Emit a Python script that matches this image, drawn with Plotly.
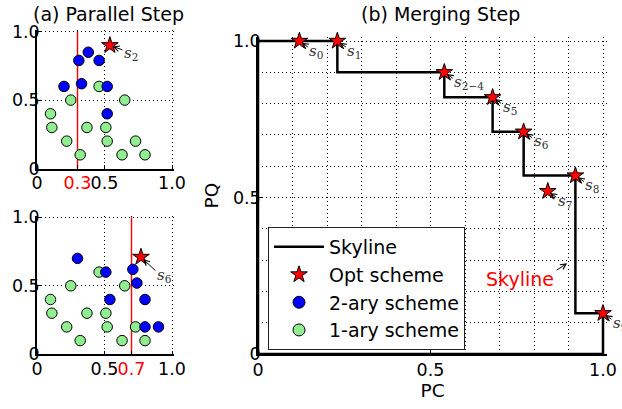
import plotly.graph_objects as go

W, H = 622, 409

# ---------------- data ----------------
thresholds = [0.3, 0.7]

green_x = [0.46, 0.25, 0.65, 0.10, 0.11, 0.37, 0.51, 0.22, 0.52, 0.73, 0.32, 0.63, 0.80]
green_y = [0.60, 0.50, 0.50, 0.40, 0.30, 0.30, 0.30, 0.20, 0.20, 0.20, 0.10, 0.10, 0.10]

blue_top_x = [0.31, 0.38, 0.46, 0.20, 0.33, 0.52, 0.52]
blue_top_y = [0.79, 0.85, 0.79, 0.60, 0.62, 0.60, 0.40]

blue_bot_x = [0.30, 0.51, 0.71, 0.74, 0.54, 0.80, 0.80, 0.90]
blue_bot_y = [0.70, 0.60, 0.62, 0.52, 0.40, 0.40, 0.20, 0.20]

star_top = (0.54, 0.90, "2")
star_bot = (0.77, 0.71, "6")

skyline_pc = [0, 0, 0.23, 0.23, 0.54, 0.54, 0.68, 0.68, 0.77, 0.77, 0.92, 0.92, 1.0, 1.0, 0]
skyline_pq = [0, 1.0, 1.0, 0.90, 0.90, 0.82, 0.82, 0.71, 0.71, 0.57, 0.57, 0.13, 0.13, 0, 0]

opt_pc = [0.12, 0.23, 0.54, 0.68, 0.77, 0.84, 0.92, 1.0]
opt_pq = [1.0, 1.0, 0.90, 0.82, 0.71, 0.52, 0.57, 0.13]
opt_labels = ["0", "1", "2\u22124", "5", "6", "7", "8", "9"]

skyline_note = (0.896, 0.29)

tick_vals = [0, 0.5, 1.0]
tick_text = ["0", "0.5", "1.0"]

# ---------------- helpers ----------------
def px_x(p):
    return p / W

def px_y(p):
    return 1 - p / H

FONT = "DejaVu Sans"
GREEN = "#90EE90"
BLUE = "#0000FF"
RED = "#FF0000"
DOT = "1px,3px"
EXT = 1.012  # tiny range extension so gridlines at 1.0 are drawn

fig = go.Figure()

circle_line = dict(color="black", width=1)

# left panels
panels = [
    ("x", "y", blue_top_x, blue_top_y, star_top, thresholds[0]),
    ("x2", "y2", blue_bot_x, blue_bot_y, star_bot, thresholds[1]),
]
for i, (xa, ya, bx, by, star, thr) in enumerate(panels):
    fig.add_trace(go.Scatter(
        x=[thr, thr], y=[0, 1], mode="lines", line=dict(color=RED, width=1.4),
        xaxis=xa, yaxis=ya, showlegend=False, hoverinfo="skip"))
    fig.add_trace(go.Scatter(
        x=green_x, y=green_y, mode="markers", xaxis=xa, yaxis=ya,
        marker=dict(symbol="circle", size=10.5, color=GREEN, line=circle_line),
        showlegend=False, cliponaxis=False))
    fig.add_trace(go.Scatter(
        x=bx, y=by, mode="markers", xaxis=xa, yaxis=ya,
        marker=dict(symbol="circle", size=10.5, color=BLUE, line=circle_line),
        showlegend=False, cliponaxis=False))
    fig.add_trace(go.Scatter(
        x=[star[0]], y=[star[1]], mode="markers", xaxis=xa, yaxis=ya,
        marker=dict(symbol="star", size=12.5, color=RED, line=dict(color="black", width=1)),
        showlegend=False, cliponaxis=False))

# right panel
fig.add_trace(go.Scatter(
    x=skyline_pc, y=skyline_pq, mode="lines", name="Skyline",
    line=dict(color="black", width=2.5), xaxis="x3", yaxis="y3",
    legendgroup="a", cliponaxis=False))
fig.add_trace(go.Scatter(
    x=opt_pc, y=opt_pq, mode="markers", name="Opt scheme",
    marker=dict(symbol="star", size=12.5, color=RED, line=dict(color="black", width=1)),
    xaxis="x3", yaxis="y3", legendgroup="b", cliponaxis=False))
# legend-only entries for circle schemes
fig.add_trace(go.Scatter(
    x=[None], y=[None], mode="markers", name="2-ary scheme",
    marker=dict(symbol="circle", size=12, color=BLUE, line=circle_line),
    xaxis="x3", yaxis="y3", legendgroup="c"))
fig.add_trace(go.Scatter(
    x=[None], y=[None], mode="markers", name="1-ary scheme",
    marker=dict(symbol="circle", size=12, color=GREEN, line=circle_line),
    xaxis="x3", yaxis="y3", legendgroup="d"))

annotations = []

def s_label(xref, yref, x, y, sub, dx=7, dy=10):
    annotations.append(dict(
        x=x, y=y, xref=xref, yref=yref, showarrow=True, text="",
        ax=dx + 4, ay=dy - 3, arrowhead=5, arrowsize=1.1, arrowwidth=1,
        arrowcolor="black", standoff=3))
    annotations.append(dict(
        x=x, y=y, xref=xref, yref=yref, showarrow=False,
        text="<i>s</i><sub>%s</sub>" % sub, xanchor="left", yanchor="middle",
        xshift=dx + 2, yshift=-dy,
        font=dict(family="DejaVu Serif", size=15, color="#333333")))

s_label("x", "y", star_top[0], star_top[1], star_top[2], dx=10, dy=8)
s_label("x2", "y2", star_bot[0], star_bot[1], star_bot[2], dx=12, dy=18)
for px_, py_, lab in zip(opt_pc, opt_pq, opt_labels):
    s_label("x3", "y3", px_, py_, lab, dx=6, dy=10)

# Skyline note
annotations.append(dict(
    x=skyline_note[0], y=skyline_note[1], xref="x3", yref="y3", text="",
    showarrow=True, ax=-12, ay=8, arrowhead=5, arrowsize=1.1, arrowwidth=1,
    arrowcolor="black", standoff=0))
annotations.append(dict(
    x=skyline_note[0], y=skyline_note[1], xref="x3", yref="y3", text="Skyline",
    showarrow=False, xanchor="right", yanchor="middle", xshift=-11, yshift=-16,
    font=dict(family=FONT, size=19, color=RED)))

# titles
annotations.append(dict(x=px_x(108), y=px_y(13.5), xref="paper", yref="paper",
                        text="(a) Parallel Step", showarrow=False,
                        xanchor="center", yanchor="middle",
                        font=dict(family=FONT, size=19, color="black")))
annotations.append(dict(x=px_x(440), y=px_y(13.5), xref="paper", yref="paper",
                        text="(b) Merging Step", showarrow=False,
                        xanchor="center", yanchor="middle",
                        font=dict(family=FONT, size=19, color="black")))

grid_common = dict(showgrid=True, gridcolor="black", griddash=DOT, gridwidth=1,
                   zeroline=False, ticks="inside", ticklen=4, tickcolor="black",
                   range=[0, EXT], automargin=False, tickangle=0,
                   tickfont=dict(family=FONT, size=17.5, color="black"))

def left_x(x0, x1, thr):
    vals = sorted(tick_vals + [thr])
    txt = []
    for v in vals:
        if v == thr:
            txt.append('<span style="color:red">%s</span>' % ("%.1f" % thr))
        else:
            txt.append(tick_text[tick_vals.index(v)])
    return dict(domain=[px_x(x0), px_x(x0 + (x1 - x0) * EXT)], tickmode="array",
                tickvals=vals, ticktext=txt, ticklabelstandoff=-2,
                showline=True, linecolor="black", linewidth=1.5, **grid_common)

def left_y(y0, y1):
    return dict(domain=[px_y(y0), px_y(y0 - (y0 - y1) * EXT)], tickmode="array",
                tickvals=tick_vals, ticktext=tick_text, ticklabelstandoff=-8,
                showline=True, linecolor="black", linewidth=1.5, **grid_common)

minor = dict(tickmode="linear", tick0=0, dtick=0.1, showgrid=True,
             gridcolor="black", griddash=DOT, gridwidth=1, ticks="")

RX0, RX1 = 258, 603
RY0, RY1 = 354, 41

fig.update_layout(
    width=W, height=H,
    margin=dict(l=0, r=0, t=0, b=0),
    paper_bgcolor="white", plot_bgcolor="white",
    font=dict(family=FONT, size=17.5, color="black"),
    xaxis=dict(anchor="y", **left_x(37, 172, thresholds[0])),
    yaxis=dict(anchor="x", **left_y(168.5, 31.7)),
    xaxis2=dict(anchor="y2", **left_x(37, 172, thresholds[1])),
    yaxis2=dict(anchor="x2", **left_y(354.3, 217.3)),
    xaxis3=dict(anchor="y3", domain=[px_x(RX0), px_x(RX0 + (RX1 - RX0) * EXT)],
                tickmode="array", tickvals=tick_vals, ticktext=tick_text, minor=minor,
                showline=True, linecolor="black", linewidth=1.5, ticklabelstandoff=-1,
                title=dict(text="PC", standoff=5, font=dict(family=FONT, size=18.5)),
                **grid_common),
    yaxis3=dict(anchor="x3", domain=[px_y(RY0), px_y(RY0 - (RY0 - RY1) * EXT)],
                tickmode="array", tickvals=tick_vals, ticktext=tick_text, minor=minor,
                showline=True, linecolor="black", linewidth=1.5, ticklabelstandoff=-8,
                title=dict(text="PQ", standoff=9, font=dict(family=FONT, size=18.5)),
                **grid_common),
    legend=dict(x=px_x(268), y=px_y(227), xanchor="left", yanchor="top",
                bgcolor="white", bordercolor="#222222", borderwidth=1,
                font=dict(family=FONT, size=19, color="black"),
                traceorder="grouped", tracegroupgap=0, itemwidth=50),
    annotations=annotations,
    showlegend=True,
)

fig.write_html("out.html", config={"displayModeBar": False},
               post_script="document.body.style.margin='0';")
